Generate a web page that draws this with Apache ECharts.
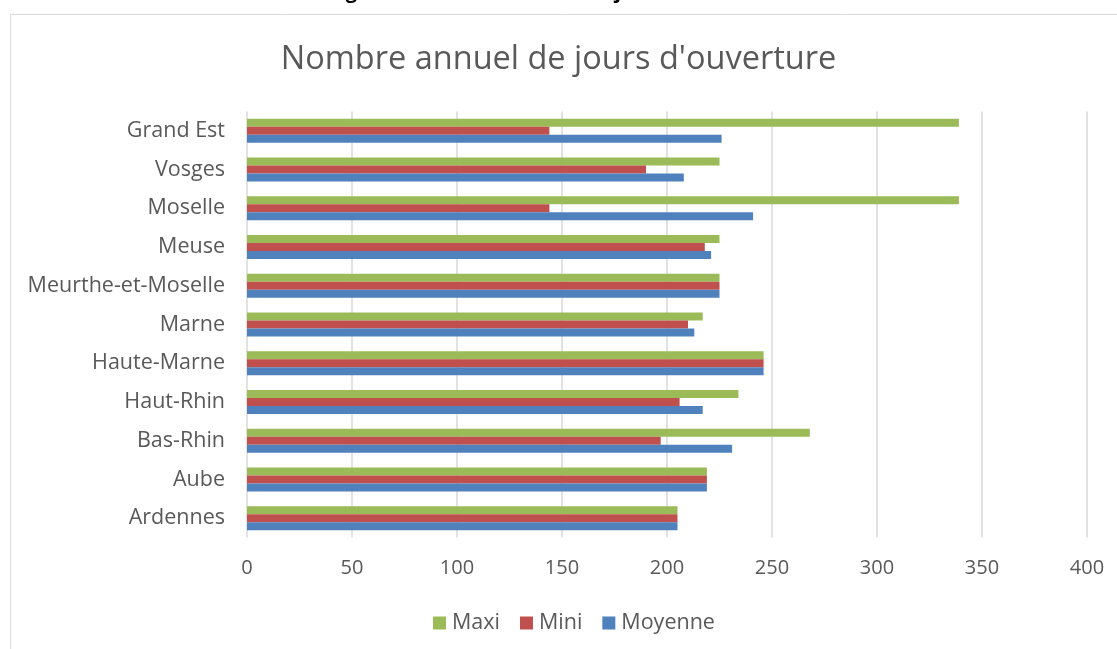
<!DOCTYPE html>
<html><head><meta charset="utf-8">
<script src="https://cdn.jsdelivr.net/npm/echarts@6/dist/echarts.min.js"></script>
<style>html,body{margin:0;padding:0;background:#fff;}#c{width:1117px;height:649px;}</style>
</head><body><div id="c"></div>
<script>
const categories = ['Ardennes','Aube','Bas-Rhin','Haut-Rhin','Haute-Marne','Marne','Meurthe-et-Moselle','Meuse','Moselle','Vosges','Grand Est'];
const maxi    = [205, 219, 268, 234, 246, 217, 225, 225, 339, 225, 339];
const mini    = [205, 219, 197, 206, 246, 210, 225, 218, 144, 190, 144];
const moyenne = [205, 219, 231, 217, 246, 213, 225, 221, 241, 208, 226];
const xTicks = [0, 50, 100, 150, 200, 250, 300, 350, 400];

const font = '"Open Sans", sans-serif';
const chart = echarts.init(document.getElementById('c'));
chart.setOption({
  animation: false,
  graphic: [
    {type:'rect', shape:{x:10.5, y:14.5, width:1120, height:660}, style:{fill:'none', stroke:'#d9d9d9', lineWidth:1}},
    {type:'text', left:'center', top:-18, style:{text:'Figure 3 : Nombre annuel de jours d\u2019ouverture', font:'bold 20px ' + font, fill:'#000'}}
  ],
  title: {text:'Nombre annuel de jours d\'ouverture', left:'center', top:38,
    textStyle:{fontFamily:font, fontWeight:'normal', fontSize:32.5, color:'#595959'}},
  legend: {bottom:10, left:428, itemWidth:13, itemHeight:13, itemGap:20, icon:'rect',
    data:['Maxi','Mini','Moyenne'], textStyle:{fontFamily:font, fontSize:21.5, color:'#595959', padding:[0,0,0,1]}},
  grid: {left:247, right:30, top:111.5, bottom:111.5, containLabel:false},
  xAxis: {type:'value', min:0, max:400, interval:50,
    axisLine:{show:false}, axisTick:{show:false},
    axisLabel:{fontFamily:font, fontSize:20, color:'#595959', margin:21,
      formatter: v => xTicks.includes(v) ? String(v) : ''},
    splitLine:{lineStyle:{color:'#d9d9d9', width:1.5}}},
  yAxis: {type:'category', data:categories,
    axisLine:{show:false}, axisTick:{show:false},
    axisLabel:{fontFamily:font, fontSize:21.5, color:'#595959', margin:22}},
  series: [
    {name:'Maxi', type:'bar', data:maxi, barWidth:8, barGap:'0%', itemStyle:{color:'#9BBB59'}},
    {name:'Mini', type:'bar', data:mini, barWidth:8, barGap:'0%', itemStyle:{color:'#C0504D'}},
    {name:'Moyenne', type:'bar', data:moyenne, barWidth:8, barGap:'0%', itemStyle:{color:'#4F81BD'}}
  ]
});
</script></body></html>
